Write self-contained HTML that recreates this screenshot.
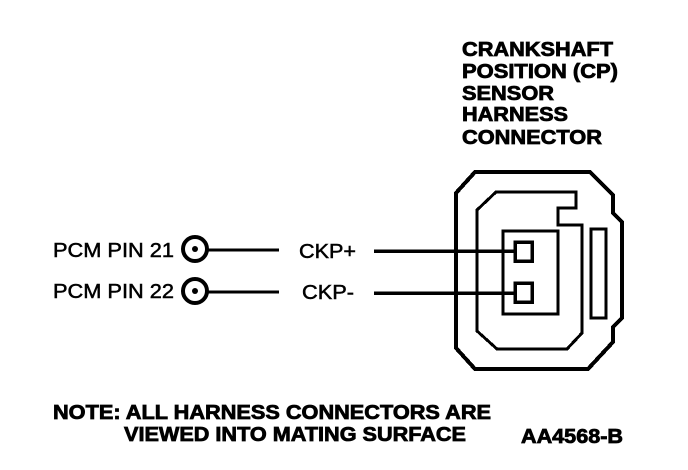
<!DOCTYPE html>
<html>
<head>
<meta charset="utf-8">
<style>
html,body{margin:0;padding:0;background:#fff;width:688px;height:470px;overflow:hidden}
svg{display:block}
text{font-family:"Liberation Sans",sans-serif;fill:#000}
.b{font-weight:bold;stroke:#000;stroke-width:.8px}
.r{stroke:#000;stroke-width:.5px}
</style>
</head>
<body>
<svg width="688" height="470" viewBox="0 0 688 470" xmlns="http://www.w3.org/2000/svg" shape-rendering="crispEdges">
<g fill="none" stroke="#000">
<polygon stroke-width="4" points="475,172 590,172 613,195 613,213 622,222 622,318 613,327 613,342 588,369 475,369 456,348 456,193"/>
<polygon stroke-width="3" points="496,192 576,192 576,208 558,208 558,225 582,225 582,333 567,349 497,349 477,331 477,210"/>
<rect x="503" y="231" width="55" height="83" stroke-width="3"/>
<rect x="515" y="242" width="17" height="19" stroke-width="3.5"/>
<rect x="515" y="283" width="17" height="19" stroke-width="3.5"/>
<rect x="591" y="229" width="15" height="89" stroke-width="3"/>
<line x1="374" y1="251" x2="515" y2="251" stroke-width="3.5"/>
<line x1="374" y1="293" x2="515" y2="293" stroke-width="3.5"/>
<line x1="207" y1="250" x2="279" y2="250" stroke-width="3"/>
<line x1="207" y1="292" x2="279" y2="292" stroke-width="3"/>
</g>
<g fill="none" stroke="#000" shape-rendering="auto">
<circle cx="195" cy="249" r="12" stroke-width="4"/>
<circle cx="195" cy="291" r="12" stroke-width="4"/>
</g>
<circle cx="195" cy="249" r="3" fill="#000" shape-rendering="auto"/>
<circle cx="195" cy="291" r="3" fill="#000" shape-rendering="auto"/>
<g font-size="20">
<text class="r" x="53" y="257" textLength="121" lengthAdjust="spacingAndGlyphs">PCM PIN 21</text>
<text class="r" x="53" y="298" textLength="121" lengthAdjust="spacingAndGlyphs">PCM PIN 22</text>
<text class="r" x="299" y="258" textLength="57" lengthAdjust="spacingAndGlyphs">CKP+</text>
<text class="r" x="302" y="299" textLength="52" lengthAdjust="spacingAndGlyphs">CKP-</text>
</g>
<g font-size="20.5">
<text class="b" x="462" y="56" textLength="151" lengthAdjust="spacingAndGlyphs">CRANKSHAFT</text>
<text class="b" x="462" y="78" textLength="156" lengthAdjust="spacingAndGlyphs">POSITION (CP)</text>
<text class="b" x="462" y="100" textLength="92" lengthAdjust="spacingAndGlyphs">SENSOR</text>
<text class="b" x="462" y="121" textLength="106" lengthAdjust="spacingAndGlyphs">HARNESS</text>
<text class="b" x="462" y="144" textLength="140" lengthAdjust="spacingAndGlyphs">CONNECTOR</text>
<text class="b" x="53" y="419" textLength="438" lengthAdjust="spacingAndGlyphs">NOTE: ALL HARNESS CONNECTORS ARE</text>
<text class="b" x="124" y="441" textLength="342" lengthAdjust="spacingAndGlyphs">VIEWED INTO MATING SURFACE</text>
<text class="b" x="521" y="443" textLength="102" lengthAdjust="spacingAndGlyphs">AA4568-B</text>
</g>
</svg>
</body>
</html>
